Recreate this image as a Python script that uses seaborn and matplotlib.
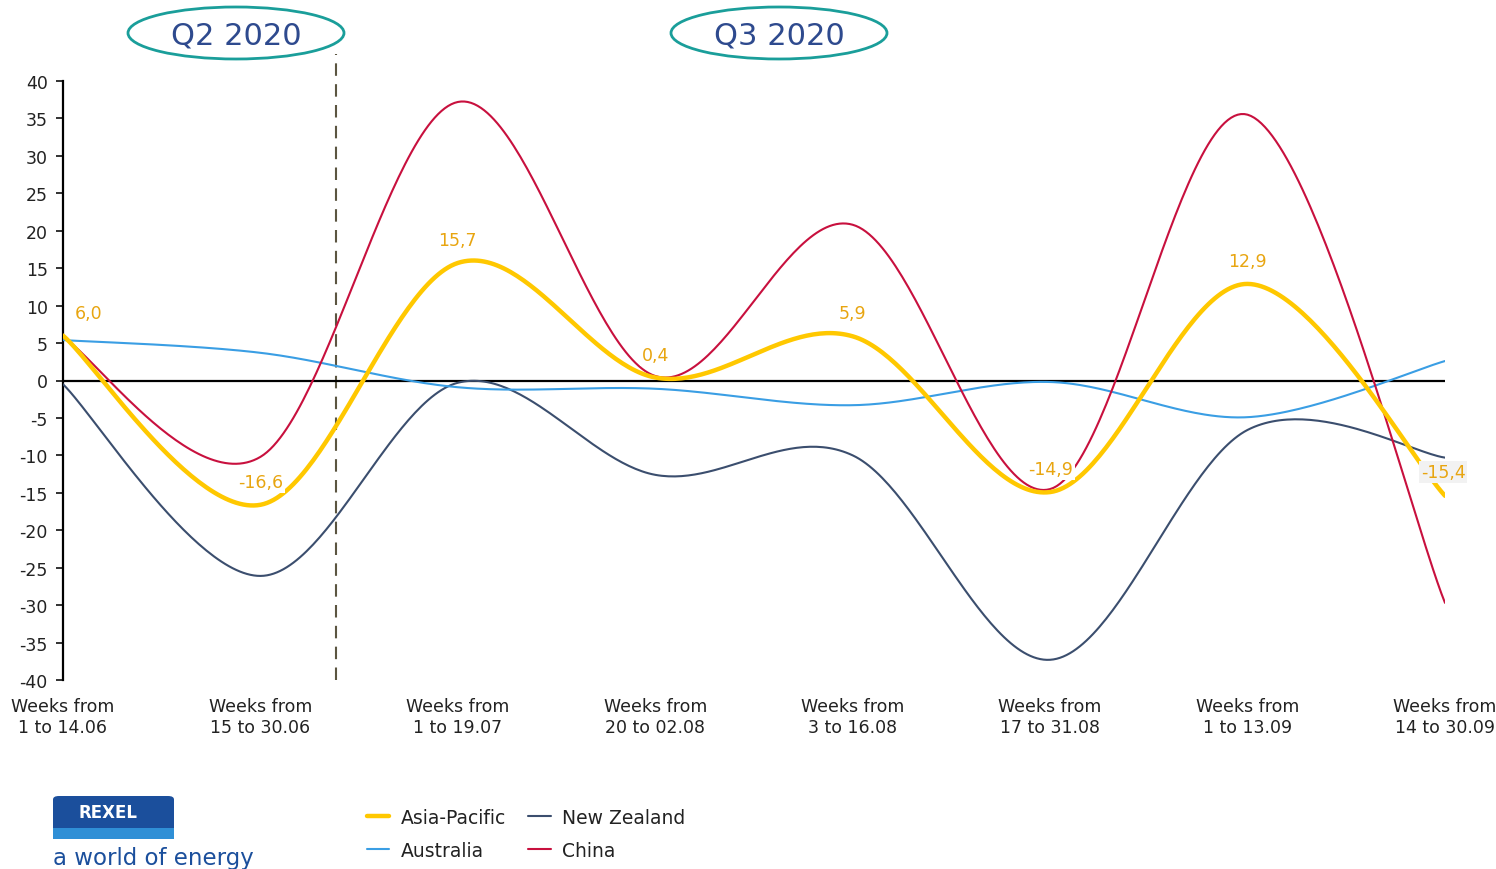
import numpy as np
import pandas as pd
import matplotlib
matplotlib.use("Agg")
import matplotlib.pyplot as plt
import seaborn as sns
from matplotlib.patches import Ellipse, FancyBboxPatch, Rectangle

# ---- data -------------------------------------------------------------
periods = [
    "Weeks from\n1 to 14.06", "Weeks from\n15 to 30.06", "Weeks from\n1 to 19.07",
    "Weeks from\n20 to 02.08", "Weeks from\n3 to 16.08", "Weeks from\n17 to 31.08",
    "Weeks from\n1 to 13.09", "Weeks from\n14 to 30.09",
]
asia_pacific = [6.0, -16.6, 15.7, 0.4, 5.9, -14.9, 12.9, -15.4]
australia = [5.4, 3.7, -0.9, -1.1, -3.3, -0.2, -4.9, 2.6]
new_zealand = [-0.5, -26.1, -0.3, -12.6, -10.0, -37.3, -6.6, -10.3]
china = [5.8, -10.2, 37.2, 0.6, 20.8, -14.5, 35.5, -29.7]
ap_labels = ["6,0", "-16,6", "15,7", "0,4", "5,9", "-14,9", "12,9", "-15,4"]
quarters = ["Q2 2020", "Q3 2020"]

colors = {
    "Asia-Pacific": "#ffc800",
    "Australia": "#3a9ee4",
    "New Zealand": "#3b4e6e",
    "China": "#c8103e",
}
widths = {"Asia-Pacific": 3.2, "Australia": 1.5, "New Zealand": 1.5, "China": 1.5}


def smooth(values, n=60):
    """Bezier smoothing through every point (Catmull-Rom tangents)."""
    pts = np.column_stack([np.arange(len(values)), values]).astype(float)
    pad = np.vstack([pts[0], pts, pts[-1]])
    segs = []
    for i in range(len(pts) - 1):
        p0, p1, p2, p3 = pad[i], pad[i + 1], pad[i + 2], pad[i + 3]
        c1 = p1 + (p2 - p0) / 6.0
        c2 = p2 - (p3 - p1) / 6.0
        t = np.linspace(0, 1, n, endpoint=(i == len(pts) - 2))[:, None]
        segs.append((1 - t) ** 3 * p1 + 3 * (1 - t) ** 2 * t * c1
                    + 3 * (1 - t) * t ** 2 * c2 + t ** 3 * p2)
    return np.vstack(segs)


series = {"Asia-Pacific": asia_pacific, "Australia": australia,
          "New Zealand": new_zealand, "China": china}
frames = []
for name, vals in series.items():
    xy = smooth(vals)
    frames.append(pd.DataFrame({"x": xy[:, 0], "y": xy[:, 1], "series": name}))
df = pd.concat(frames, ignore_index=True)

# ---- figure -----------------------------------------------------------
sns.set_theme(style="white")
plt.rcParams["font.family"] = ["DejaVu Sans"]
fig = plt.figure(figsize=(14.96, 8.70), dpi=100)
W, H = 1496, 870
ax = fig.add_axes([63 / W, 1 - 681 / H, (1445 - 63) / W, (681 - 82) / H])

draw_order = ["New Zealand", "Australia", "China", "Asia-Pacific"]
for name in draw_order:
    sub = df[df["series"] == name]
    sns.lineplot(data=sub, x="x", y="y", sort=False, estimator=None, ax=ax,
                 color=colors[name], linewidth=widths[name],
                 zorder=4 if name == "Asia-Pacific" else 3)

ax.axhline(0, color="black", linewidth=1.6, zorder=2)

ax.set_xlim(0, len(periods) - 1)
ax.set_ylim(-40, 40)
ax.set_yticks(np.arange(-40, 41, 5))
ax.set_yticklabels([str(v) for v in range(-40, 41, 5)])
ax.set_xticks(range(len(periods)))
ax.set_xticklabels(periods, fontsize=12.5, color="#222222", linespacing=1.25)
ax.tick_params(axis="y", labelsize=12.5, colors="#222222", left=True,
               length=5, width=1.3, direction="out", pad=6)
ax.tick_params(axis="x", bottom=False, pad=6)
ax.set_xlabel("")
ax.set_ylabel("")
for s in ["top", "right", "bottom"]:
    ax.spines[s].set_visible(False)
ax.spines["left"].set_color("black")
ax.spines["left"].set_linewidth(1.6)
ax.grid(False)

# quarter separator
ax.plot([1.385, 1.385], [-40, 43.6], color="#5b5541", linewidth=1.5,
        dashes=(6, 4), clip_on=False, zorder=1)

# data labels for Asia-Pacific
for i, (v, lab) in enumerate(zip(asia_pacific, ap_labels)):
    dx, dy = 0, 23
    face = "white"
    if i == 0:
        dx = 26
    if i == len(asia_pacific) - 1:
        dx, dy = -2, 24
        face = "#f2f2f2"
    ax.annotate(lab, (i, v), xytext=(dx, dy), textcoords="offset pixels",
                ha="center", va="center", fontsize=12.5, color="#e8a510",
                bbox=dict(boxstyle="square,pad=0.12", fc=face, ec="none"),
                zorder=5)

# quarter headers
for (cx, label) in zip([236, 779], quarters):
    fig.patches.append(Ellipse((cx / W, 1 - 34 / H), 216 / W, 52 / H,
                               transform=fig.transFigure, fill=False,
                               edgecolor="#1a9e9a", linewidth=2.0))
    fig.text(cx / W, 1 - 36 / H, label, ha="center", va="center",
             fontsize=22, color="#2e4a8e")

# legend
handles = [plt.Line2D([], [], color=colors[n], linewidth=widths[n]) for n in
           ["Asia-Pacific", "Australia", "New Zealand", "China"]]
fig.legend(handles, ["Asia-Pacific", "Australia", "New Zealand", "China"],
           ncol=2, loc="center left", bbox_to_anchor=(350 / W, 1 - 835 / H),
           frameon=False, fontsize=13.5, handlelength=1.2, handletextpad=0.6,
           columnspacing=1.2, labelspacing=0.75, labelcolor="#222222")

# company badge
fig.patches.append(FancyBboxPatch((53 / W, 1 - 840 / H), 121 / W, 43 / H,
                                  boxstyle="round,pad=0,rounding_size=0.004",
                                  transform=fig.transFigure, fc="#1b4f9c", ec="none"))
fig.patches.append(Rectangle((53 / W, 1 - 840 / H), 121 / W, 11 / H,
                             transform=fig.transFigure, fc="#2f8fd6", ec="none"))
fig.text(108 / W, 1 - 813 / H, "REXEL", ha="center", va="center", fontsize=12,
         color="white", fontweight="bold")
fig.text(53 / W, 1 - 859 / H, "a world of energy", ha="left", va="center",
         fontsize=16.5, color="#1b4f9c")

fig.savefig("out.png", dpi=100)
